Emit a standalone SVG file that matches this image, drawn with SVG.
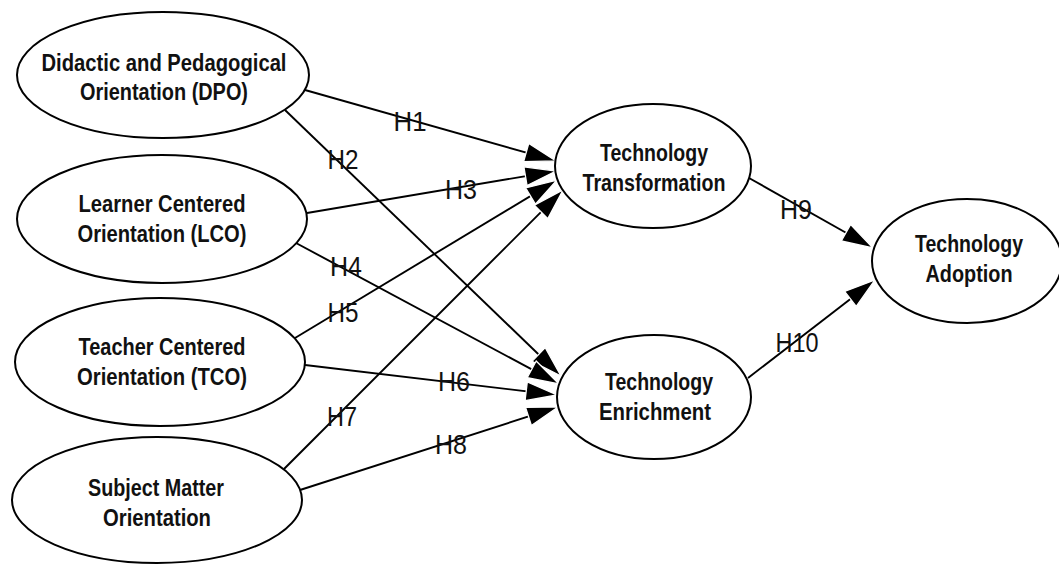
<svg xmlns="http://www.w3.org/2000/svg" width="1059" height="565" viewBox="0 0 1059 565">
<style>
.node ellipse{fill:#fff;stroke:#000;stroke-width:2}
.node text{font-family:"Liberation Sans",Arial,sans-serif;font-size:24px;font-weight:bold;fill:#111;text-anchor:middle}
.edge{stroke:#000;stroke-width:1.9;fill:none;marker-end:url(#arr)}
.lbl{font-family:"Liberation Sans",Arial,sans-serif;font-size:27px;fill:#111;text-anchor:middle}
</style>
<defs>
<marker id="arr" markerUnits="userSpaceOnUse" markerWidth="34" markerHeight="20" refX="27" refY="9.5" orient="auto" overflow="visible">
<path d="M0,0 L31,9.5 L0,19 Z" fill="#000" stroke="#fff" stroke-width="1.3"/>
</marker>
</defs>
<rect width="1059" height="565" fill="#fff"/>
<g id="connectors">
<line class="edge" x1="305" y1="90" x2="552.2" y2="159.9"/>
<line class="edge" x1="285" y1="110" x2="558.1" y2="373.2"/>
<line class="edge" x1="307" y1="213" x2="552.1" y2="171.7"/>
<line class="edge" x1="296" y1="243" x2="555.5" y2="382.1"/>
<line class="edge" x1="295" y1="338" x2="553.6" y2="182.1"/>
<line class="edge" x1="305" y1="365" x2="553" y2="394.5"/>
<line class="edge" x1="284" y1="469" x2="560.2" y2="192.8"/>
<line class="edge" x1="300" y1="490" x2="554.2" y2="408.2"/>
<line class="edge" x1="749" y1="178" x2="869.5" y2="246"/>
<line class="edge" x1="748" y1="378" x2="871.8" y2="282.4"/>
<text class="lbl" x="410" y="131" textLength="33" lengthAdjust="spacingAndGlyphs">H1</text>
<text class="lbl" x="343" y="169" textLength="31" lengthAdjust="spacingAndGlyphs">H2</text>
<text class="lbl" x="461" y="199" textLength="32" lengthAdjust="spacingAndGlyphs">H3</text>
<text class="lbl" x="346" y="276" textLength="32" lengthAdjust="spacingAndGlyphs">H4</text>
<text class="lbl" x="343" y="322" textLength="31" lengthAdjust="spacingAndGlyphs">H5</text>
<text class="lbl" x="454" y="391" textLength="32" lengthAdjust="spacingAndGlyphs">H6</text>
<text class="lbl" x="342" y="426" textLength="30" lengthAdjust="spacingAndGlyphs">H7</text>
<text class="lbl" x="451" y="454" textLength="32" lengthAdjust="spacingAndGlyphs">H8</text>
<text class="lbl" x="796" y="219" textLength="32" lengthAdjust="spacingAndGlyphs">H9</text>
<text class="lbl" x="797" y="352" textLength="43" lengthAdjust="spacingAndGlyphs">H10</text>
</g>
<g id="DPO" class="node">
<ellipse cx="163" cy="75" rx="146" ry="63"/>
<text x="164" y="71" textLength="245" lengthAdjust="spacingAndGlyphs">Didactic and Pedagogical</text>
<text x="164" y="100" textLength="168" lengthAdjust="spacingAndGlyphs">Orientation (DPO)</text>
</g>
<g id="LCO" class="node">
<ellipse cx="162" cy="219" rx="145" ry="64"/>
<text x="162" y="212" textLength="167" lengthAdjust="spacingAndGlyphs">Learner Centered</text>
<text x="162" y="242" textLength="169" lengthAdjust="spacingAndGlyphs">Orientation (LCO)</text>
</g>
<g id="TCO" class="node">
<ellipse cx="160" cy="362" rx="145" ry="64"/>
<text x="162" y="355" textLength="167" lengthAdjust="spacingAndGlyphs">Teacher Centered</text>
<text x="162" y="385" textLength="170" lengthAdjust="spacingAndGlyphs">Orientation (TCO)</text>
</g>
<g id="SMO" class="node">
<ellipse cx="157" cy="500" rx="145" ry="63"/>
<text x="156" y="496" textLength="136" lengthAdjust="spacingAndGlyphs">Subject Matter</text>
<text x="157" y="526" textLength="108" lengthAdjust="spacingAndGlyphs">Orientation</text>
</g>
<g id="TT" class="node">
<ellipse cx="653" cy="166" rx="98" ry="62"/>
<text x="654" y="161" textLength="108" lengthAdjust="spacingAndGlyphs">Technology</text>
<text x="654" y="191" textLength="143" lengthAdjust="spacingAndGlyphs">Transformation</text>
</g>
<g id="TE" class="node">
<ellipse cx="654" cy="397" rx="97" ry="62"/>
<text x="659" y="390" textLength="108" lengthAdjust="spacingAndGlyphs">Technology</text>
<text x="655" y="420" textLength="112" lengthAdjust="spacingAndGlyphs">Enrichment</text>
</g>
<g id="TA" class="node">
<ellipse cx="967" cy="261" rx="95" ry="62"/>
<text x="969" y="252" textLength="108" lengthAdjust="spacingAndGlyphs">Technology</text>
<text x="969" y="282" textLength="87" lengthAdjust="spacingAndGlyphs">Adoption</text>
</g>
</svg>
